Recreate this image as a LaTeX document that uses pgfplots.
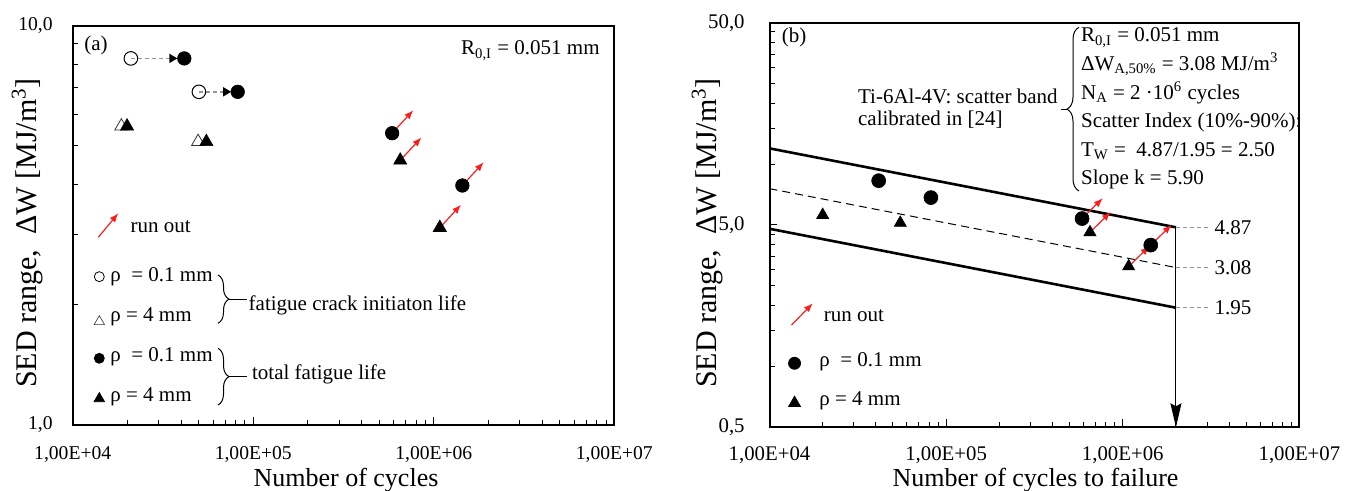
\documentclass[border=0pt]{standalone}
\usepackage{fontspec}
\setmainfont{Liberation Serif}
\usepackage{pgfplots}
\pgfplotsset{compat=1.18}
\usetikzlibrary{arrows.meta,decorations.pathreplacing}

\definecolor{runred}{RGB}{250,30,30}
\definecolor{leadgray}{RGB}{150,150,150}
\newcommand{\ann}{\fontsize{10.5}{12}\selectfont}

\tikzset{
  runout/.style={runred, line width=0.6pt, -{Latex[length=4.5pt,width=3.5pt]}},
  leader/.style={leadgray, line width=0.5pt, dash pattern=on 2pt off 1.5pt},
}
\pgfplotsset{
  every axis/.append style={
    xmode=log, ymode=log, scale only axis, anchor=south west,
    xmin=1e4, xmax=1e7,
    axis line style={line width=1pt},
    tick style={black, line width=0.5pt},
    tick align=inside, tick pos=left,
    major tick length=4pt, minor tick length=2.5pt,
    xtick={1e4,1e5,1e6,1e7},
    xticklabels={{1,00E+04},{1,00E+05},{1,00E+06},{1,00E+07}},
    minor xtick={2e4,3e4,4e4,5e4,6e4,7e4,8e4,9e4,2e5,3e5,4e5,5e5,6e5,7e5,8e5,9e5,2e6,3e6,4e6,5e6,6e6,7e6,8e6,9e6},
    clip=false,
    ticklabel style={font=\fontsize{9.8}{11}\selectfont},
    yticklabel style={anchor=east, inner sep=0pt},
    xticklabel style={anchor=center, inner sep=0pt},
  },
}

\begin{document}
\begin{tikzpicture}
\path[use as bounding box] (0,0) rectangle (673pt,245.5pt);

% (a) initiation and total life
\begin{axis}[
  at={(36.35pt,33pt)}, width=270.8pt, height=199.65pt,
  ymin=1, ymax=10,
  ytick={1,10}, yticklabels={{1,0},{10,0}},
  minor ytick={2,3,4,5,6,7,8,9},
  yticklabel style={xshift=-9.85pt},
  xticklabel style={yshift=-15pt},
]
\addplot[only marks, mark=o, mark size=3.4pt, mark options={line width=0.5pt, fill=white}]
  coordinates {(2.1e4,8.28) (5.0e4,6.83)};
\addplot[only marks, mark=triangle, mark size=3.8pt, mark options={line width=0.4pt, draw=black!80, fill=white}]
  coordinates {(1.86e4,5.6) (4.95e4,5.12)};
\draw[leadgray, line width=0.7pt, dash pattern=on 2pt off 1.5pt, -{Triangle[length=4pt,width=4.5pt,color=black]}]
  (axis cs:2.1e4,8.28) -- (axis cs:3.8e4,8.28);
\draw[leadgray, line width=0.7pt, dash pattern=on 2pt off 1.5pt, -{Triangle[length=4pt,width=4.5pt,color=black]}]
  (axis cs:5.0e4,6.83) -- (axis cs:7.55e4,6.83);
\addplot[only marks, mark=triangle*, mark size=3.8pt, mark options={fill=black, draw=black, line width=0.3pt}]
  coordinates {(2.0e4,5.6) (5.5e4,5.12) (6.52e5,4.6) (1.08e6,3.12)};
\addplot[only marks, mark=*, mark size=3.4pt, mark options={fill=black, draw=black, line width=0.3pt}]
  coordinates {(4.15e4,8.28) (8.2e4,6.83) (5.88e5,5.38) (1.44e6,3.98)};
\draw[runout] (axis cs:5.88e5,5.38) -- (axis cs:7.7e5,6.14);
\draw[runout] (axis cs:6.52e5,4.6) -- (axis cs:8.54e5,5.25);
\draw[runout] (axis cs:1.44e6,3.98) -- (axis cs:1.89e6,4.55);
\draw[runout] (axis cs:1.08e6,3.12) -- (axis cs:1.415e6,3.56);
% legend marks
\addplot[only marks, mark=o, mark size=2.5pt, mark options={line width=0.4pt}] coordinates {(1.404e4,2.352)};
\addplot[only marks, mark=triangle, mark size=3pt, mark options={line width=0.3pt, draw=black!80}] coordinates {(1.404e4,1.815)};
\addplot[only marks, mark=*, mark size=2.5pt, mark options={fill=black}] coordinates {(1.404e4,1.469)};
\addplot[only marks, mark=triangle*, mark size=3pt, mark options={fill=black}] coordinates {(1.404e4,1.164)};
\end{axis}

% (b) scatter band
\begin{axis}[
  at={(384.75pt,31.85pt)}, width=264.95pt, height=202.3pt,
  ymin=0.5, ymax=50,
  ytick={0.5,5,50}, yticklabels={{0,5},{5,0},{50,0}},
  minor ytick={1,1.5,2,2.5,3,3.5,4,4.5,10,15,20,25,30,35,40,45},
  ticklabel style={font=\fontsize{10.4}{12}\selectfont},
  yticklabel style={xshift=-12.25pt},
  xticklabel style={yshift=-13.85pt},
]
\addplot[black, line width=1.3pt] coordinates {(1e4,11.96) (2e6,4.87)};
\addplot[black, line width=0.5pt, dash pattern=on 4pt off 2.5pt] coordinates {(1e4,7.56) (2e6,3.08)};
\addplot[black, line width=1.3pt] coordinates {(1e4,4.79) (2e6,1.95)};
\draw[black, line width=0.5pt, -{Stealth[length=12pt,width=5.5pt,inset=1.5pt]}]
  (axis cs:2e6,4.87) -- (axis cs:2e6,0.5);
\draw[leader] (axis cs:2e6,4.87) -- (axis cs:3.08e6,4.87);
\draw[leader] (axis cs:2e6,3.08) -- (axis cs:3.08e6,3.08);
\draw[leader] (axis cs:2e6,1.95) -- (axis cs:3.08e6,1.95);
\node[anchor=west, inner sep=0pt, font=\ann] at (axis cs:3.29e6,4.87) {4.87};
\node[anchor=west, inner sep=0pt, font=\ann] at (axis cs:3.29e6,3.08) {3.08};
\node[anchor=west, inner sep=0pt, font=\ann] at (axis cs:3.29e6,1.95) {1.95};
\addplot[only marks, mark=triangle*, mark size=3.5pt, mark options={fill=black, draw=black, line width=0.3pt}]
  coordinates {(2.0e4,5.6) (5.5e4,5.12) (6.52e5,4.6) (1.08e6,3.12)};
\addplot[only marks, mark=*, mark size=3.5pt, mark options={fill=black, draw=black, line width=0.3pt}]
  coordinates {(4.15e4,8.28) (8.2e4,6.83) (5.88e5,5.38) (1.44e6,3.98)};
\draw[runout] (axis cs:5.88e5,5.38) -- (axis cs:7.7e5,6.78);
\draw[runout] (axis cs:6.52e5,4.6) -- (axis cs:8.54e5,5.8);
\draw[runout] (axis cs:1.44e6,3.98) -- (axis cs:1.89e6,5.01);
\draw[runout] (axis cs:1.08e6,3.12) -- (axis cs:1.415e6,3.93);
% legend marks
\addplot[only marks, mark=*, mark size=3pt, mark options={fill=black}] coordinates {(1.386e4,1.036)};
\addplot[only marks, mark=triangle*, mark size=3.4pt, mark options={fill=black}] coordinates {(1.386e4,0.659)};
\end{axis}

\begin{scope}[x=0.5pt, y=0.5pt, font=\ann, every node/.style={inner sep=0pt}]
% panel (a) texts
\node[anchor=center] at (96,446) {(a)};
\node[anchor=base east] at (600,436) {R\textsubscript{0,I} = 0.051 mm};
\draw[runout] (98.3,253.7) -- (118.3,277.7);
\node[anchor=base west] at (130.3,258.7) {run out};
\node[anchor=base west] at (110,209.3) {ρ\ \ = 0.1 mm};
\node[anchor=base west] at (110,169.3) {ρ = 4 mm};
\node[anchor=base west] at (110,129.3) {ρ\ \ = 0.1 mm};
\node[anchor=base west] at (110,89.3) {ρ = 4 mm};
\draw[line width=0.5pt, decorate, decoration={brace, amplitude=5.5pt}] (218,216) -- (218,167.7);
\draw[line width=0.5pt] (229,191.85) -- (246.7,191.85);
\node[anchor=base west] at (248.3,180) {fatigue crack initiaton life};
\draw[line width=0.5pt, decorate, decoration={brace, amplitude=5.5pt}] (218,142.7) -- (218,86);
\draw[line width=0.5pt] (229,114.35) -- (246.7,114.35);
\node[anchor=base west] at (251.7,111.7) {total fatigue life};
\node[anchor=base, rotate=90, font=\fontsize{15}{18}\selectfont] at (36,258) {SED range,\ \ ΔW\ [MJ/m\textsuperscript{3}]};
\node[anchor=base, font=\fontsize{13}{15}\selectfont] at (346,4.5) {Number of cycles};
% panel (b) texts
\node[anchor=center] at (794,454) {(b)};
\node[anchor=base west] at (857.7,387.7) {Ti-6Al-4V: scatter band};
\node[anchor=base west] at (857.7,365) {calibrated in [24]};
\draw[line width=0.5pt, decorate, decoration={brace, amplitude=6pt}] (1079,300) -- (1079,463.7);
\draw[line width=0.5pt] (1067,381.85) -- (1061,381.85);
\node[anchor=base west] at (1080.7,449) {R\textsubscript{0,I} = 0.051 mm};
\node[anchor=base west] at (1080.7,420.4) {ΔW\textsubscript{A,50\%} = 3.08 MJ/m\textsuperscript{3}};
\node[anchor=base west] at (1080.7,391.8) {N\textsubscript{A} = 2 ·10\textsuperscript{6} cycles};
\node[anchor=base west] at (1080.7,363.2) {Scatter Index (10\%-90\%):};
\node[anchor=base west] at (1080.7,334.6) {T\textsubscript{W} =\ \ 4.87/1.95 = 2.50};
\node[anchor=base west] at (1080.7,306) {Slope k = 5.90};
\draw[runout] (791.6,166) -- (812.8,187.7);
\node[anchor=base west] at (823.4,169.3) {run out};
\node[anchor=base west] at (819,124) {ρ\ \ = 0.1 mm};
\node[anchor=base west] at (819,85) {ρ = 4 mm};
\node[anchor=base, rotate=90, font=\fontsize{15}{18}\selectfont] at (716,258) {SED range,\ \ ΔW\ [MJ/m\textsuperscript{3}]};
\node[anchor=base, font=\fontsize{13}{15}\selectfont] at (1035.5,4.5) {Number of cycles to failure};
\end{scope}
\end{tikzpicture}
\end{document}
